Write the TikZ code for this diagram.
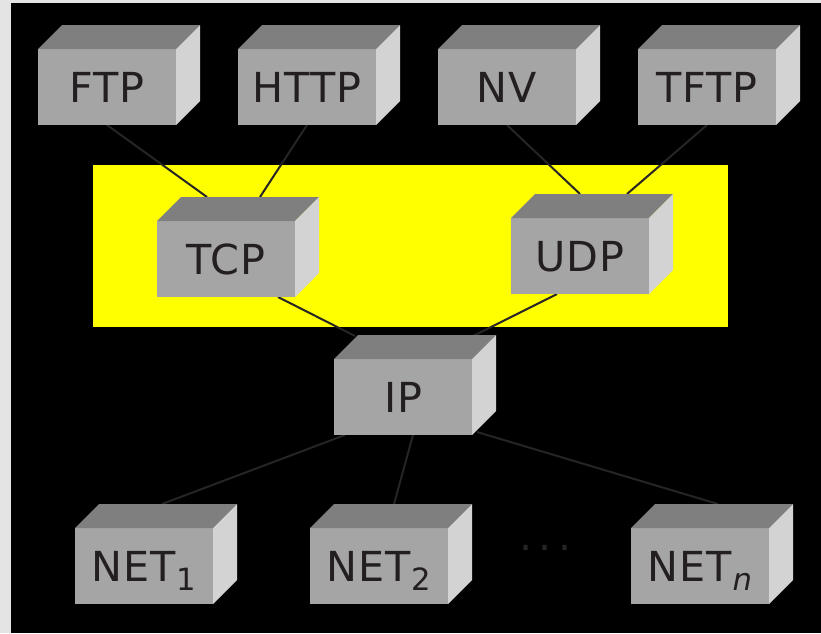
\documentclass[tikz,border=0pt]{standalone}
\usepackage{fontspec}
\setmainfont[LetterSpace=2]{DejaVu Sans}
\usetikzlibrary{calc}
\definecolor{frontc}{RGB}{166,165,166}
\definecolor{topc}{RGB}{128,127,127}
\definecolor{sidec}{RGB}{211,211,211}
\definecolor{inkc}{RGB}{35,31,32}
\definecolor{wirec}{RGB}{38,36,37}
\definecolor{paperc}{RGB}{228,228,228}
\definecolor{yell}{RGB}{255,255,0}
\pgfdeclarelayer{bg}
\pgfdeclarelayer{wires}
\pgfsetlayers{bg,wires,main}
\tikzset{
  cubefront/.style={rectangle, fill=frontc, inner sep=0pt, outer sep=0pt,
    minimum width=103.5pt, minimum height=57pt, text=inkc,
    font=\fontsize{31pt}{31pt}\selectfont, text height=22.6pt, text depth=0pt},
  wire/.style={draw=wirec, line width=1.5pt},
  dotstext/.style={text=wirec, inner sep=0pt, font=\fontsize{31pt}{31pt}\selectfont, anchor=base}
}
\newcommand{\cubenode}[3]{%
  \node[cubefront] (#1) at (#2) {#3};
  \fill[topc] (#1.north west) -- ([shift={(24,-24)}]#1.north west) -- ([shift={(24,-24)}]#1.north east) -- (#1.north east) -- cycle;
  \fill[sidec] (#1.north east) -- ([shift={(24,-24)}]#1.north east) -- ([shift={(24,-24)}]#1.south east) -- (#1.south east) -- cycle;
}
\newcommand{\subtext}[1]{\kern1pt\raisebox{-7pt}{\fontsize{23pt}{23pt}\selectfont #1}}
\begin{document}
\begin{tikzpicture}[x=0.75pt,y=-0.75pt]
\useasboundingbox (0,0) rectangle (821,633);
\begin{pgfonlayer}{bg}
  \fill[paperc] (0,0) rectangle (821,633);
  \fill[black] (11,3) rectangle (821,633);
  \fill[yell] (93,165) rectangle (728,327);
\end{pgfonlayer}
\cubenode{ftp}{107,87}{FTP}
\cubenode{http}{307,87}{HTTP}
\cubenode{nv}{507,87}{NV}
\cubenode{tftp}{707,87}{TFTP}
\cubenode{tcp}{226,259}{TCP}
\cubenode{udp}{580,256}{UDP}
\cubenode{ip}{403,397}{IP}
\cubenode{net1}{144,566}{NET\subtext{1}}
\cubenode{net2}{379,566}{NET\subtext{2}}
\cubenode{netn}{700,566}{NET\subtext{\textit{n}}}
\node[dotstext] (dots) at (545.5,550) {.\kern4.6pt.\kern4.6pt.};
\begin{pgfonlayer}{wires}
  \draw[wire] (ftp.south) -- ($(tcp.north)+(-19,-24)$);
  \draw[wire] (http.south) -- ($(tcp.north)+(34,-24)$);
  \draw[wire] (nv.south) -- ($(udp.north)+(0,-24)$);
  \draw[wire] (tftp.south) -- ($(udp.north)+(47,-24)$);
  \draw[wire] ($(tcp.south)+(52,0)$) -- ($(ip.north)+(-48,-23)$);
  \draw[wire] ($(udp.south)+(-23,0)$) -- ($(ip.north)+(70,-23)$);
  \draw[wire] ($(ip.south)+(-58,0)$) -- ($(net1.north)+(18,-24)$);
  \draw[wire] ($(ip.south)+(10,0)$) -- ($(net2.north)+(15,-24)$);
  \draw[wire] ($(ip.south east)+(5,-3)$) -- ($(netn.north)+(18,-24)$);
\end{pgfonlayer}
\end{tikzpicture}
\end{document}
